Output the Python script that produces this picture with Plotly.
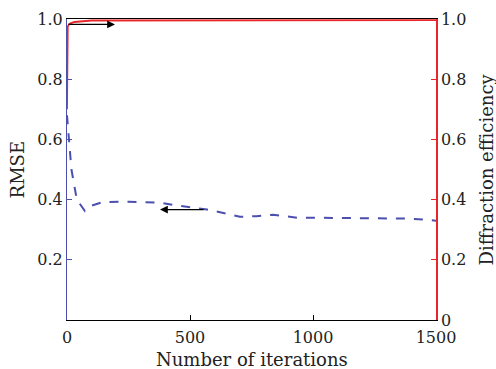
import plotly.graph_objects as go

iter_rmse = [0, 8, 18, 40, 73, 100, 146, 250, 378, 450, 569, 640, 703, 770, 837, 935, 1100, 1250, 1394, 1500]
rmse = [0.68, 0.60, 0.50, 0.40, 0.362, 0.38, 0.392, 0.393, 0.390, 0.380, 0.367, 0.355, 0.343, 0.345, 0.350, 0.340, 0.339, 0.338, 0.337, 0.330]

iter_eff = [0, 3, 10, 30, 100, 1500]
eff = [0.70, 0.975, 0.984, 0.99, 0.995, 0.996]

x_ticks = [0, 500, 1000, 1500]
left_ticks = [0.2, 0.4, 0.6, 0.8, 1.0]
right_ticks = [0, 0.2, 0.4, 0.6, 0.8, 1.0]

BLUE = "#4b4fae"
RED = "#e8262a"
FONT = "DejaVu Serif"

fig = go.Figure()
fig.add_trace(go.Scatter(x=iter_eff, y=eff, mode="lines", yaxis="y2",
                         line=dict(color=RED, width=1.8), showlegend=False))
fig.add_trace(go.Scatter(x=iter_rmse, y=rmse, mode="lines",
                         line=dict(color=BLUE, width=2, dash="dash"), showlegend=False))

fig.add_annotation(x=195, y=0.982, ax=0, ay=0.982, xref="x", yref="y", axref="x", ayref="y",
                   showarrow=True, arrowhead=2, arrowsize=1.2, arrowwidth=1.3, arrowcolor="black", text="")
fig.add_annotation(x=378, y=0.367, ax=561, ay=0.367, xref="x", yref="y", axref="x", ayref="y",
                   showarrow=True, arrowhead=2, arrowsize=1.2, arrowwidth=1.3, arrowcolor="black", text="")

TITLE_FONT = dict(family=FONT, size=18, color="#222")
fig.add_annotation(text="Number of iterations", xref="paper", yref="paper", x=0.5, y=-0.132,
                   xanchor="center", yanchor="middle", showarrow=False, font=TITLE_FONT)
fig.add_annotation(text="RMSE", xref="paper", x=-0.133, yref="paper", y=0.5, textangle=-90,
                   xanchor="center", yanchor="middle", showarrow=False, font=TITLE_FONT)
fig.add_annotation(text="Diffraction efficiency", xref="paper", x=1.138, yref="paper", y=0.5, textangle=-90,
                   xanchor="center", yanchor="middle", showarrow=False, font=TITLE_FONT)

fig.update_layout(
    template="none",
    width=496, height=369,
    margin=dict(l=67, r=60, t=19, b=49),
    plot_bgcolor="white", paper_bgcolor="white",
    font=dict(family=FONT, size=16, color="#222"),
    xaxis=dict(range=[0, 1500], tickvals=x_ticks, ticks="inside", ticklen=5, tickcolor="black",
               showline=True, linecolor="black", linewidth=1.2, mirror=True, showgrid=False, zeroline=False,
               automargin=False, ticklabelstandoff=3),
    yaxis=dict(range=[0, 1], tickvals=left_ticks, ticktext=["0.2", "0.4", "0.6", "0.8", "1.0"],
               ticks="inside", ticklen=5, tickcolor=BLUE, automargin=False,
               showline=True, linecolor=BLUE, linewidth=1.2, showgrid=False, zeroline=False),
    yaxis2=dict(range=[0, 1], tickvals=right_ticks, ticktext=["0", "0.2", "0.4", "0.6", "0.8", "1.0"],
                overlaying="y", side="right", ticks="inside", ticklen=5, tickcolor=RED, automargin=False,
                showline=True, linecolor=RED, linewidth=1.5, showgrid=False, zeroline=False),
)

fig.write_html("out.html", config={"displayModeBar": False},
               post_script="document.body.style.margin='0px';")
